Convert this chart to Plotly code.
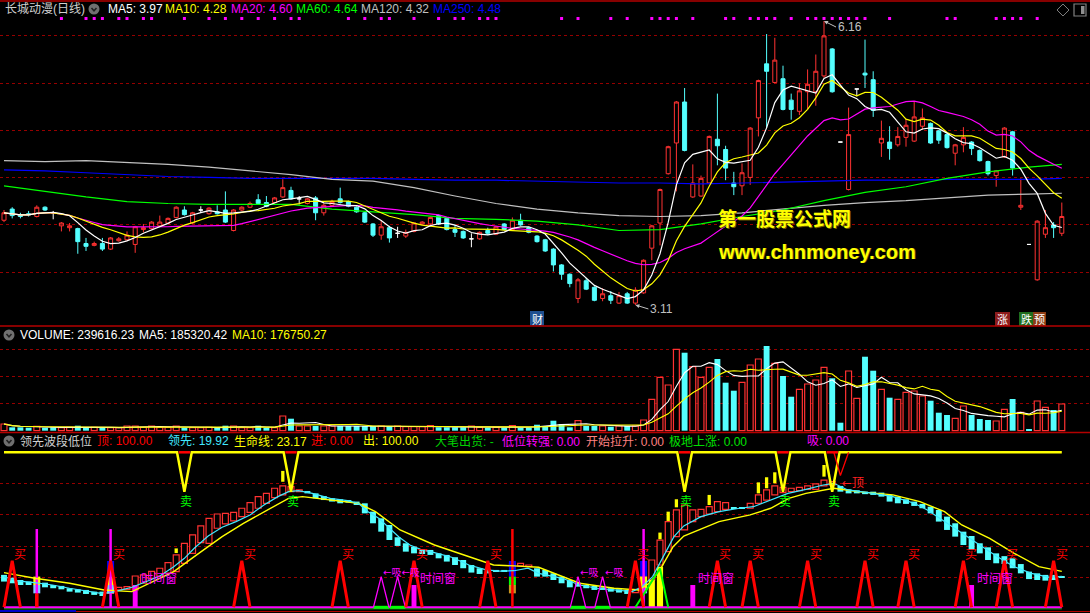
import numpy as np
import pandas as pd
import plotly.graph_objects as go

# ---------------- daily candles ----------------
opens = [4.02, 4.14, 4.08, 4.09, 4.06, 4.16, 4.10, 3.96, 3.94, 3.93,
         3.77, 3.75, 3.77, 3.71, 3.80, 3.81, 3.76, 3.92, 3.93, 3.96,
         3.99, 4.05, 4.13, 3.99, 4.13, 4.09, 4.11, 4.13, 3.91, 4.13,
         4.16, 4.24, 4.21, 4.21, 4.27, 4.34, 4.25, 4.20, 4.26, 4.10,
         4.18, 4.25, 4.22, 4.16, 4.10, 3.98, 3.86, 3.94, 3.88, 3.85,
         3.90, 3.98, 3.98, 4.07, 4.04, 3.92, 3.90, 3.82, 3.82, 3.91,
         3.87, 3.98, 3.92, 4.02, 3.94, 3.85, 3.81, 3.71, 3.54, 3.44,
         3.18, 3.37, 3.30, 3.18, 3.21, 3.13, 3.23, 3.13, 3.24, 3.72,
         3.99, 4.52, 4.85, 5.29, 4.27, 4.28, 4.42, 4.89, 4.78, 4.42,
         4.39, 4.48, 5.12, 5.70, 5.50, 5.54, 5.31, 5.19, 5.40, 5.40,
         5.57, 5.86, 4.86, 4.35, 5.43, 5.60, 5.53, 4.85, 4.86, 4.83,
         4.91, 4.87, 5.03, 5.06, 4.98, 4.94, 4.74, 4.83, 4.86, 4.77,
         4.65, 4.50, 4.70, 4.97, 4.16, 3.76, 3.38, 3.87, 3.97, 3.88]
highs = [4.13, 4.16, 4.10, 4.12, 4.18, 4.17, 4.12, 4.00, 3.99, 3.94,
         3.83, 3.79, 3.83, 3.84, 3.84, 3.90, 3.96, 3.98, 4.01, 4.07,
         4.05, 4.17, 4.17, 4.11, 4.17, 4.16, 4.18, 4.33, 4.14, 4.17,
         4.22, 4.30, 4.28, 4.27, 4.46, 4.38, 4.28, 4.26, 4.28, 4.20,
         4.24, 4.37, 4.23, 4.17, 4.11, 3.99, 4.02, 3.96, 3.95, 3.92,
         4.00, 4.01, 4.06, 4.08, 4.05, 3.97, 3.91, 3.88, 3.90, 3.94,
         3.96, 3.99, 4.05, 4.09, 3.95, 3.86, 3.82, 3.72, 3.55, 3.45,
         3.40, 3.40, 3.31, 3.29, 3.26, 3.25, 3.25, 3.30, 3.60, 3.97,
         4.36, 4.82, 5.30, 5.44, 4.62, 4.50, 4.93, 5.38, 4.82, 4.54,
         4.63, 5.02, 5.53, 6.02, 5.98, 5.68, 5.38, 5.49, 5.64, 5.80,
         6.16, 5.87, 4.86, 5.23, 5.43, 5.96, 5.62, 5.09, 5.03, 5.02,
         5.11, 5.30, 5.22, 5.07, 4.99, 4.95, 4.84, 5.02, 4.87, 4.78,
         4.66, 4.56, 5.02, 4.98, 4.47, 3.76, 4.02, 4.13, 4.00, 4.21]
lows = [4.00, 4.04, 4.04, 4.06, 4.05, 4.12, 4.03, 3.90, 3.90, 3.66,
        3.69, 3.74, 3.69, 3.70, 3.79, 3.80, 3.67, 3.89, 3.92, 3.95,
        3.98, 4.04, 4.07, 3.98, 4.10, 4.08, 4.08, 3.99, 3.90, 4.12,
        4.15, 4.19, 4.16, 4.20, 4.26, 4.24, 4.19, 4.19, 4.02, 4.07,
        4.17, 4.20, 4.16, 4.10, 3.99, 3.84, 3.81, 3.78, 3.83, 3.83,
        3.89, 3.97, 3.97, 3.97, 3.91, 3.84, 3.82, 3.73, 3.81, 3.86,
        3.86, 3.91, 3.91, 3.96, 3.88, 3.78, 3.68, 3.47, 3.38, 3.30,
        3.13, 3.27, 3.15, 3.15, 3.12, 3.12, 3.12, 3.11, 3.23, 3.59,
        3.75, 4.51, 4.33, 4.76, 4.26, 4.27, 4.41, 4.61, 4.45, 4.29,
        4.29, 4.40, 4.92, 5.01, 5.49, 5.20, 5.10, 5.15, 5.21, 5.25,
        5.55, 5.39, 4.86, 4.34, 5.35, 5.44, 5.13, 4.70, 4.67, 4.81,
        4.81, 4.86, 4.99, 4.84, 4.84, 4.79, 4.61, 4.75, 4.72, 4.65,
        4.50, 4.38, 4.69, 4.50, 4.13, 3.76, 3.37, 3.83, 3.83, 3.85]
closes = [4.10, 4.07, 4.06, 4.08, 4.16, 4.13, 4.10, 3.99, 3.96, 3.79,
          3.74, 3.77, 3.71, 3.83, 3.82, 3.86, 3.95, 3.94, 4.00, 4.00,
          4.04, 4.16, 4.08, 4.10, 4.13, 4.15, 4.09, 4.00, 4.13, 4.16,
          4.20, 4.20, 4.17, 4.26, 4.37, 4.25, 4.25, 4.25, 4.10, 4.18,
          4.22, 4.21, 4.17, 4.11, 4.00, 3.86, 3.95, 3.83, 3.88, 3.89,
          3.99, 4.00, 4.05, 3.98, 3.92, 3.89, 3.83, 3.82, 3.89, 3.88,
          3.95, 3.92, 4.02, 3.97, 3.89, 3.79, 3.69, 3.54, 3.44, 3.34,
          3.38, 3.28, 3.16, 3.23, 3.16, 3.21, 3.13, 3.27, 3.59, 3.96,
          4.35, 4.81, 5.29, 4.77, 4.42, 4.47, 4.92, 4.82, 4.58, 4.38,
          4.53, 5.01, 5.52, 5.62, 5.74, 5.21, 5.21, 5.41, 5.48, 5.62,
          6.00, 5.40, 4.86, 4.94, 5.43, 5.58, 5.20, 4.90, 4.79, 4.92,
          5.04, 5.13, 5.12, 4.85, 4.88, 4.80, 4.83, 4.91, 4.79, 4.66,
          4.52, 4.55, 5.01, 4.58, 4.18, 3.76, 4.01, 3.94, 3.94, 4.06]
volumes = [60100, 30500, 30500, 26900, 39500, 26900, 30500, 26900, 30500, 44900,
           26900, 30500, 26900, 26900, 26900, 42200, 42200, 30500, 42200, 30500,
           30500, 42200, 26900, 26900, 26900, 30500, 26900, 44900, 42200, 26900,
           26900, 44900, 26900, 26900, 131900, 107700, 42200, 42200, 42200, 42200,
           42200, 42200, 42200, 42200, 42200, 42200, 42200, 42200, 42200, 35900,
           35900, 35900, 44900, 30500, 30500, 30500, 30500, 42200, 30500, 26900,
           30500, 26900, 44900, 26900, 26900, 53800, 42200, 89700, 60100, 30500,
           89700, 42200, 42200, 42200, 35900, 42200, 42200, 42200, 96000, 281800,
           479200, 410100, 730500, 700000, 574400, 479200, 569000, 643500, 430800, 359000,
           434400, 589600, 643500, 760200, 604900, 490900, 305100, 371600, 419100, 455000,
           569000, 470300, 71800, 535800, 290800, 664100, 538500, 371600, 296200, 281800,
           344600, 356300, 311400, 269200, 161500, 140900, 111300, 221700, 140900, 105000,
           96000, 87100, 192100, 284500, 165100, 15300, 266500, 210000, 185800, 239616]
vol_dir = ("rcccrccrrc" "crcrrrrrrr" "rrcrrrccrr" "rccrrcrrcr" "rcccccrcrr"
           "rrrccccrrc" "rcrccccccc" "rccrcrcrrr" "rrrcrrrccc" "rrrcrccrrr"
           "rccrrccrcr" "rrrcccrrcc" "crrcrcrrcr")

# long moving averages at every 5th day
ma_long_idx = [0, 5, 10, 15, 20, 25, 30, 35, 40, 45, 50, 55, 60, 65, 70, 75, 80,
               85, 90, 95, 100, 105, 110, 115, 120, 125, 129]
ma60_val = [4.39, 4.33, 4.27, 4.22, 4.20, 4.19, 4.19, 4.19, 4.14, 4.11, 4.08, 4.04,
            4.03, 4.01, 3.97, 3.91, 3.92, 3.98, 4.06, 4.13, 4.23, 4.32, 4.38, 4.47,
            4.54, 4.59, 4.62]
ma120_val = [4.66, 4.65, 4.66, 4.64, 4.62, 4.59, 4.55, 4.51, 4.46, 4.44, 4.37, 4.28,
             4.20, 4.14, 4.10, 4.07, 4.06, 4.07, 4.10, 4.14, 4.18, 4.21, 4.23, 4.26,
             4.29, 4.30, 4.31]
ma250_val = [4.56, 4.55, 4.53, 4.51, 4.49, 4.48, 4.47, 4.47, 4.47, 4.47, 4.46, 4.45,
             4.45, 4.44, 4.43, 4.42, 4.42, 4.41, 4.42, 4.43, 4.44, 4.45, 4.45, 4.46,
             4.46, 4.46, 4.47]
marker_dot_idx = [7, 10, 11, 12, 14, 15, 17, 18, 22, 25, 27, 29, 31, 33, 35, 36, 42, 44,
                  46, 47, 50, 53, 55, 56, 58, 59, 60, 68, 70, 74, 76, 79, 80, 81, 82, 84,
                  88, 89, 91, 92, 93, 94, 96, 98, 99, 100, 101, 102, 103, 104, 105, 108,
                  115, 116, 121, 122, 123, 124, 126]
marker_dot_level = 6.187

# ---------------- indicator panel (领先波段低位) ----------------
lead_lo = [16.6, 15.5, 14.4, 14.4, 13.3, 12.9, 12.3, 11.6, 10.1, 9.5,
           8.6, 8.0, 7.3, 9.0, 11.2, 11.6, 11.2, 15.5, 18.7, 20.2,
           22.0, 23.0, 28.4, 34.8, 41.7, 41.3, 51.0, 53.8, 55.7, 58.5,
           61.3, 63.9, 67.1, 70.7, 72.5, 74.6, 74.6, 73.5, 70.3, 69.2,
           68.2, 67.1, 67.5, 66.0, 60.6, 54.2, 48.8, 43.4, 39.6, 35.9,
           34.8, 34.4, 33.8, 31.6, 29.5, 27.3, 25.2, 22.4, 21.5, 21.9,
           23.0, 23.2, 26.2, 26.7, 26.2, 19.8, 19.8, 17.6, 15.5, 12.9,
           13.3, 12.3, 11.2, 11.2, 10.1, 9.5, 8.6, 9.5, 11.2, 17.6,
           27.3, 35.9, 45.6, 49.9, 55.3, 58.5, 60.2, 61.7, 63.2, 63.5,
           63.5, 63.9, 67.1, 69.2, 72.5, 74.0, 74.6, 75.3, 76.1, 76.1,
           78.3, 78.9, 74.6, 73.5, 73.5, 73.0, 72.5, 71.4, 68.2, 67.1,
           66.7, 65.4, 63.9, 60.6, 55.3, 49.9, 45.6, 40.2, 37.0, 34.8,
           30.5, 28.4, 27.9, 25.2, 21.9, 18.2, 17.6, 17.2, 17.6, 19.1]
lead_hi = [20.9, 19.1, 17.6, 16.6, 16.6, 15.9, 14.4, 13.8, 12.3, 11.6,
           11.2, 10.1, 10.1, 11.2, 12.9, 13.3, 20.2, 20.9, 23.2, 25.2,
           28.8, 33.8, 41.3, 46.7, 52.5, 57.4, 60.2, 60.6, 61.3, 63.9,
           67.5, 71.4, 73.5, 76.8, 78.3, 77.8, 75.7, 75.0, 73.5, 71.8,
           70.3, 69.7, 69.2, 68.2, 67.1, 61.7, 57.4, 53.1, 45.2, 41.3,
           39.1, 37.4, 37.0, 34.8, 33.8, 32.3, 30.5, 27.3, 25.2, 24.5,
           24.1, 24.1, 28.4, 28.4, 27.3, 25.2, 24.1, 21.9, 19.8, 17.6,
           15.9, 14.4, 13.8, 12.9, 12.3, 11.6, 11.2, 11.6, 19.8, 30.5,
           43.4, 55.3, 62.8, 66.0, 62.8, 63.2, 64.9, 68.2, 67.5, 64.3,
           64.5, 67.1, 72.5, 75.7, 78.3, 77.4, 76.8, 77.4, 78.3, 79.6,
           82.1, 81.1, 78.3, 76.1, 75.5, 74.6, 74.6, 74.0, 72.5, 71.4,
           69.7, 68.2, 66.7, 64.9, 62.8, 58.5, 54.2, 48.8, 46.0, 41.3,
           38.7, 34.8, 33.0, 31.6, 27.9, 23.0, 21.9, 20.9, 20.9, 20.2]
lead_dir = "c" * 13 + "r" * 24 + "c" * 25 + "r" * 3 + "c" * 12 + "r" * 12 + "c" * 2 + "r" * 11 + "c" * 28

lead_line_x = [0, 1.6, 3.7, 5.9, 8, 10.1, 11.8, 13, 14.3, 15.6, 17.3, 19, 20.7, 22, 23.2,
               24.9, 26.6, 28.3, 30, 31.7, 33.4, 34.7, 35.9, 37.6, 39.8, 41.9, 43.2, 44.4,
               45.7, 47, 48.2, 49.5, 50.8, 52.5, 54.6, 56.7, 58.8, 60.5, 62.2, 63.9, 65.2,
               68.1, 70.2, 72.3, 74.5, 76.6, 77.8, 79.1, 80.4, 81.7, 82.9, 85, 87.2, 89.7,
               91.4, 93.5, 95.6, 97.8, 99.9, 101.2, 102.9, 105.4, 108.4, 111, 112.6, 114.7,
               116.9, 119, 121.1, 123.2, 125.3, 127.5, 129]
lead_line_y = [19.8, 17, 15.9, 14.4, 12.3, 10.7, 9, 9.5, 11.2, 12.9, 16.5, 20.2, 26.2, 31.6,
               38.1, 46, 51.6, 55.3, 59.6, 66, 71.4, 74.6, 75.3, 73.5, 70.3, 68.8, 67.1, 61.7,
               57.4, 51, 45.2, 40.2, 37.4, 35.3, 32.3, 27.3, 24.1, 23.4, 23.6, 25.2, 21.9,
               18.7, 14.4, 12.3, 11.2, 10.1, 13.3, 19.8, 32.7, 45.6, 52.5, 58.5, 61.7, 63.9,
               64.9, 69.2, 73.5, 76.1, 78.9, 80, 75.7, 74, 71.4, 67.1, 62.8, 55.3, 47.7,
               40.2, 32.7, 26.2, 21.9, 19.3, 19.92]
life_line_x = [0, 3.75, 8.0, 12.2, 15.6, 17.3, 20.7, 23.2, 26.6, 29.2, 31.7, 34.7, 36.4,
               39.8, 43.2, 45.3, 48.3, 52.5, 56.7, 59.7, 62.2, 65.2, 70.2, 74.4, 77.4,
               78.7, 80.0, 81.6, 82.9, 87.2, 91.0, 93.5, 95.7, 97.8, 101.2, 104.1, 108.4,
               111.7, 114.7, 116.8, 120.2, 123.2, 126.2, 129]
life_line_y = [22.4, 18.7, 15.5, 11.2, 10.1, 14.4, 23, 32.7, 45.6, 54.2, 61.7, 70.3, 71.4,
               69.2, 67.1, 61.7, 49.9, 40.2, 32.7, 27.3, 26.7, 25.8, 15.5, 12.3, 11.2,
               15.5, 24.1, 39.1, 46, 55.3, 59.6, 63.9, 70.3, 73.5, 76.8, 74.6, 72.5,
               68.2, 61.7, 53.1, 44.5, 34.8, 26.2, 23.17]

top_level = 100.0
sell_idx = [22, 35, 83, 95, 101]
sell_depth = 74.6
warn_top_idx = 102
warn_top_depth = 85.0
buy_idx = [1, 13, 29, 41, 50, 59, 77, 87, 91, 98, 105, 110, 117, 122, 128]
buy_height = 30.0
window_idx = [16, 50, 84, 118]
window_height = 14.4
absorb_idx = [46, 48, 70, 73]
absorb_height = 19.8
spike_idx = [4, 13, 78, 62]
spike_color = ["m", "m", "m", "r"]
spike_height = 50.5
stack_idx = [4, 13, 62, 78]
stack_top = [19.8, 29.9, 29.9, 29.9]
stack_blue_lo = [None, 19.8, 19.8, 19.8]
stack_mid_lo = [14.4, 14.4, 14.4, 12.3]
stack_mid_color = ["y", "y", "g", "y"]
stack_low_lo = [9.0, 9.0, 9.0, 9.0]
stack_low_color = ["b", "b", "o", "b"]
rise_idx = [79, 80]
rise_val = [17.6, 26.2]
surge_x = [77, 80, 81]
surge_y = [0, 25, 0]
ytick_idx = [21, 34, 80, 81, 82, 86, 92, 93, 94, 100]
ytick_lo = [35.0, 81.0, 43.9, 55.7, 64.5, 66.0, 73.5, 76.8, 80.0, 84.3]
ytick_hi = [38.0, 88.0, 48.2, 61.7, 69.7, 72.5, 80.6, 83.9, 87.1, 91.8]

# ---------------- styling ----------------
W, H = 1090, 613
RED = "#ff3232"
CYAN = "#54ffff"
GRID = "#960000"
BORDER = "#b40000"
MAG = "#ff00ff"
FONT = "Liberation Sans, Noto Sans CJK SC, sans-serif"
CJK = "Noto Sans CJK SC, sans-serif"
ARROWFONT = "DejaVu Sans, Noto Sans CJK SC, sans-serif"

n = len(closes)
idx = list(range(n))
cs = pd.Series(closes)
ma5 = cs.rolling(5, min_periods=1).mean()
ma10 = cs.rolling(10, min_periods=1).mean()
ma20 = cs.rolling(20, min_periods=1).mean()
vs = pd.Series(volumes, dtype=float)
vma5 = vs.rolling(5, min_periods=1).mean()
vma10 = vs.rolling(10, min_periods=1).mean()


def pick(a, ii):
    return [a[i] for i in ii]


def px(x):
    return x / W


def py(y):
    return 1 - y / H


fig = go.Figure()

# ---- price panel ----
reg = [i for i in idx if opens[i] != closes[i]]
flat = [i for i in idx if opens[i] == closes[i]]
fig.add_trace(go.Candlestick(
    x=reg, open=pick(opens, reg), high=pick(highs, reg), low=pick(lows, reg), close=pick(closes, reg),
    increasing=dict(line=dict(color=RED, width=1), fillcolor="#000000"),
    decreasing=dict(line=dict(color=CYAN, width=1), fillcolor=CYAN),
    whiskerwidth=0, hoverinfo="skip", yaxis="y"))
fig.add_trace(go.Candlestick(
    x=flat, open=pick(opens, flat), high=pick(highs, flat), low=pick(lows, flat), close=pick(closes, flat),
    increasing=dict(line=dict(color="#ffffff", width=1), fillcolor="#ffffff"),
    decreasing=dict(line=dict(color="#ffffff", width=1), fillcolor="#ffffff"),
    whiskerwidth=0, hoverinfo="skip", yaxis="y"))

for vals, xs, col in [(ma250_val, ma_long_idx, "#0000ff"), (ma120_val, ma_long_idx, "#c0c0c0"),
                      (ma60_val, ma_long_idx, "#00ff00"), (list(ma20), idx, MAG),
                      (list(ma10), idx, "#ffff00"), (list(ma5), idx, "#ffffff")]:
    fig.add_trace(go.Scatter(x=xs, y=vals, mode="lines", line=dict(color=col, width=1.2),
                             hoverinfo="skip", yaxis="y"))

fig.add_trace(go.Scatter(x=marker_dot_idx, y=[marker_dot_level] * len(marker_dot_idx), mode="markers",
                         marker=dict(symbol="square", size=3, color=MAG), hoverinfo="skip", yaxis="y"))

# ---- volume panel ----
up = [i for i in idx if vol_dir[i] == "r"]
dn = [i for i in idx if vol_dir[i] == "c"]
fig.add_trace(go.Bar(x=up, y=pick(volumes, up), width=0.72, yaxis="y2", hoverinfo="skip",
                     marker=dict(color="#000000", line=dict(color=RED, width=1.2))))
fig.add_trace(go.Bar(x=dn, y=pick(volumes, dn), width=0.72, yaxis="y2", hoverinfo="skip",
                     marker=dict(color=CYAN, line=dict(width=0))))
fig.add_trace(go.Scatter(x=idx, y=list(vma5), mode="lines", line=dict(color="#ffffff", width=1.1),
                         yaxis="y2", hoverinfo="skip"))
fig.add_trace(go.Scatter(x=idx, y=list(vma10), mode="lines", line=dict(color="#ffff00", width=1.1),
                         yaxis="y2", hoverinfo="skip"))

# ---- indicator panel ----
fig.add_trace(go.Scatter(x=[0, n - 1], y=[-1.0, -1.0], mode="lines", line=dict(color="#00c000", width=1),
                         yaxis="y3", hoverinfo="skip"))
fig.add_trace(go.Scatter(x=[0, n - 1], y=[0, 0], mode="lines", line=dict(color=MAG, width=2),
                         yaxis="y3", hoverinfo="skip"))

for i, c in zip(spike_idx, spike_color):
    fig.add_trace(go.Scatter(x=[i, i], y=[0, spike_height], mode="lines",
                             line=dict(color=MAG if c == "m" else "#ff0000", width=2.5),
                             yaxis="y3", hoverinfo="skip"))
fig.add_trace(go.Scatter(x=[spike_idx[0], spike_idx[0]], y=[0, 9.0], mode="lines",
                         line=dict(color="#ff0000", width=3.5), yaxis="y3", hoverinfo="skip"))

r_i = [i for i in idx if lead_dir[i] == "r"]
c_i = [i for i in idx if lead_dir[i] == "c"]
fig.add_trace(go.Bar(x=r_i, y=[lead_hi[i] - lead_lo[i] for i in r_i], base=pick(lead_lo, r_i), width=0.72,
                     marker=dict(color="#000000", line=dict(color=RED, width=1.2)), yaxis="y3", hoverinfo="skip"))
fig.add_trace(go.Bar(x=c_i, y=[lead_hi[i] - lead_lo[i] for i in c_i], base=pick(lead_lo, c_i), width=0.72,
                     marker=dict(color=CYAN, line=dict(width=0)), yaxis="y3", hoverinfo="skip"))

fig.add_trace(go.Bar(x=ytick_idx, y=[h - l for h, l in zip(ytick_hi, ytick_lo)], base=ytick_lo, width=0.4,
                     marker=dict(color="#ffff00", line=dict(width=0)), yaxis="y3", hoverinfo="skip"))

fig.add_trace(go.Scatter(x=life_line_x, y=life_line_y, mode="lines", line=dict(color="#ffff00", width=1.4),
                         yaxis="y3", hoverinfo="skip"))
fig.add_trace(go.Scatter(x=lead_line_x, y=lead_line_y, mode="lines", line=dict(color="#40e8ff", width=1.2),
                         yaxis="y3", hoverinfo="skip"))

colmap = {"y": "#ffff00", "g": "#00ff00", "b": "#80c8ff", "o": "#c8961e"}
for k, i in enumerate(stack_idx):
    segs = []
    if stack_blue_lo[k] is not None:
        segs.append((stack_blue_lo[k], stack_top[k], "#0000ff"))
        segs.append((stack_mid_lo[k], stack_blue_lo[k], colmap[stack_mid_color[k]]))
    else:
        segs.append((stack_mid_lo[k], stack_top[k], colmap[stack_mid_color[k]]))
    segs.append((stack_low_lo[k], stack_mid_lo[k], colmap[stack_low_color[k]]))
    for lo, hi, col in segs:
        fig.add_trace(go.Bar(x=[i], y=[hi - lo], base=[lo], width=0.85, marker=dict(color=col, line=dict(width=0)),
                             yaxis="y3", hoverinfo="skip"))

fig.add_trace(go.Bar(x=rise_idx, y=rise_val, base=[0, 0], width=0.75, marker=dict(color="#ffff00", line=dict(width=0)),
                     yaxis="y3", hoverinfo="skip"))
fig.add_trace(go.Scatter(x=surge_x, y=surge_y, mode="lines", line=dict(color="#00ff00", width=2),
                         yaxis="y3", hoverinfo="skip"))

fig.add_trace(go.Bar(x=window_idx, y=[window_height] * len(window_idx), base=[0] * len(window_idx), width=0.6,
                     marker=dict(color=MAG, line=dict(width=0)), yaxis="y3", hoverinfo="skip"))

ax_, ay_ = [], []
gx, gy = [], []
for i in absorb_idx:
    ax_ += [i - 0.95, i, i + 0.95, None]
    ay_ += [0, absorb_height, 0, None]
    gx += [i - 0.95, i + 0.95, None]
    gy += [0, 0, None]
fig.add_trace(go.Scatter(x=gx, y=gy, mode="lines", line=dict(color="#00ff00", width=3), yaxis="y3", hoverinfo="skip"))
fig.add_trace(go.Scatter(x=ax_, y=ay_, mode="lines", line=dict(color=MAG, width=1.3), yaxis="y3", hoverinfo="skip"))

bx, by = [], []
for i in buy_idx:
    bx += [i - 1, i, i + 1, None]
    by += [0, buy_height, 0, None]
fig.add_trace(go.Scatter(x=bx, y=by, mode="lines", line=dict(color="#ff0000", width=3), yaxis="y3", hoverinfo="skip"))

tx, ty = [0], [top_level]
for s in sell_idx:
    tx += [s - 0.9, s, s + 0.9]
    ty += [top_level, sell_depth, top_level]
tx += [n - 1]
ty += [top_level]
fig.add_trace(go.Scatter(x=tx, y=ty, mode="lines", line=dict(color="#ffff00", width=2.5), yaxis="y3", hoverinfo="skip"))
rx, ry = [], []
for s in sell_idx:
    rx += [s - 0.7, s + 0.7, None]
    ry += [top_level, top_level, None]
fig.add_trace(go.Scatter(x=rx, y=ry, mode="lines", line=dict(color="#ff0000", width=2.5), yaxis="y3", hoverinfo="skip"))
fig.add_trace(go.Scatter(x=[warn_top_idx - 0.8, warn_top_idx, warn_top_idx + 1.0],
                         y=[top_level, warn_top_depth, top_level], mode="lines",
                         line=dict(color="#ff0000", width=1.3), yaxis="y3", hoverinfo="skip"))

# ---------------- annotations ----------------
ann = []


def txt(x, y, s, color, size=12, family=FONT, anchor="left", bold=False):
    ann.append(dict(x=px(x), y=py(y), xref="paper", yref="paper", text=("<b>%s</b>" % s) if bold else s,
                    showarrow=False, xanchor=anchor, yanchor="middle",
                    font=dict(color=color, size=size, family=family)))


def dtxt(x, y, s, color, size=12, anchor="left", family=CJK):
    ann.append(dict(x=x, y=y, xref="x", yref="y3", text=s, showarrow=False, xanchor=anchor, yanchor="middle",
                    font=dict(color=color, size=size, family=family)))


txt(3, 9, "长城动漫(日线)", "#d0d0d0", 12)
txt(106, 9, "MA5: 3.97", "#ffffff")
txt(163, 9, "MA10: 4.28", "#ffff00")
txt(229, 9, "MA20: 4.60", MAG)
txt(294, 9, "MA60: 4.64", "#00ff00")
txt(359, 9, "MA120: 4.32", "#c0c0c0")
txt(431, 9, "MA250: 4.48", "#0000ff")
txt(18, 335, "VOLUME: 239616.23", "#ffffff")
txt(137, 335, "MA5: 185320.42", "#ffffff")
txt(230, 335, "MA10: 176750.27", "#ffff00")
txt(18, 441, "领先波段低位", "#d0d0d0")
txt(95, 441, "顶: 100.00", "#ff0000")
txt(166, 441, "领先: 19.92", "#40e8ff")
txt(232, 441, "生命线: 23.17", "#ffff00")
txt(309, 441, "进: 0.00", "#ff0000")
txt(361, 441, "出: 100.00", "#ffff00")
txt(433, 441, "大笔出货: -", "#00d000")
txt(500, 441, "低位转强: 0.00", MAG)
txt(584, 441, "开始拉升: 0.00", "#ff8080")
txt(667, 441, "极地上涨: 0.00", "#00e000")
txt(805, 441, "吸: 0.00", MAG)

txt(717, 218.5, "第一股票公式网", "#6a5a00", 19, CJK, bold=True)
txt(716, 217.5, "第一股票公式网", "#ffff00", 19, CJK, bold=True)
txt(717, 252.5, "www.chnmoney.com", "#6a5a00", 20, "Liberation Sans, Arial, sans-serif", bold=True)
txt(716, 251.5, "www.chnmoney.com", "#ffff00", 20, "Liberation Sans, Arial, sans-serif", bold=True)

ann.append(dict(x=100, y=6.16, xref="x", yref="y", text="6.16", showarrow=True, arrowhead=2, arrowsize=0.8,
                arrowwidth=1, arrowcolor="#c0c0c0", ax=12, ay=6, xanchor="left", yanchor="middle",
                font=dict(color="#c0c0c0", size=12, family=FONT)))
ann.append(dict(x=77, y=3.11, xref="x", yref="y", text="3.11", showarrow=True, arrowhead=2, arrowsize=0.8,
                arrowwidth=1, arrowcolor="#c0c0c0", ax=13, ay=4, xanchor="left", yanchor="middle",
                font=dict(color="#c0c0c0", size=12, family=FONT)))

txt(537, 318.5, "财", "#ffffff", 11, CJK, anchor="center")
txt(1002.5, 319, "涨", "#ffffff", 11, CJK, anchor="center")
txt(1026, 319, "跌", "#ffffff", 11, CJK, anchor="center")
txt(1039, 319, "预", "#ffffff", 11, CJK, anchor="center")

for s in sell_idx:
    dtxt(s + 0.2, 69.2, "卖", "#00ff00", anchor="center")
dtxt(101.95, 80.2, "←顶", "#ff2020", family=ARROWFONT)
for i in buy_idx:
    dtxt(i, 35.0, "买", "#ff0000")
for i in window_idx:
    dtxt(i + 0.45, 19.5, "时间窗", MAG, 12)
# absorb labels: signals closer than 2.5 days share one label string
groups = []
for i in absorb_idx:
    if groups and i - groups[-1][-1] < 2.5:
        groups[-1].append(i)
    else:
        groups.append([i])
for g in groups:
    dtxt(g[0], 22.3, "←吸" * len(g), MAG, 10, family=ARROWFONT)

# ---------------- shapes ----------------
shapes = []


def hline(y, x0, x1, color, width=1.0):
    shapes.append(dict(type="line", xref="paper", yref="paper", x0=px(x0), x1=px(x1), y0=py(y), y1=py(y),
                       line=dict(color=color, width=width)))


def rect(x0, y0, x1, y1, fill):
    shapes.append(dict(type="rect", xref="paper", yref="paper", x0=px(x0), x1=px(x1), y0=py(y1), y1=py(y0),
                       fillcolor=fill, line=dict(width=0), layer="below"))


hline(1, 0, W, BORDER, 1.5)
hline(326, 0, W, BORDER, 1.5)
hline(432.5, 0, W, BORDER, 1.5)
hline(611.5, 0, W, BORDER, 1.2)
hline(611, 0, 76, "#0000c8", 2)

rect(530, 311, 544, 325.5, "#1f4f8f")
rect(995, 312, 1010, 326, "#8c1c1c")
rect(1019, 312, 1033, 326, "#1e6e1e")
rect(1033, 312, 1046, 326, "#8c3c14")

for cx, cy in [(94, 9), (9, 335), (9, 441)]:
    shapes.append(dict(type="circle", xref="paper", yref="paper", x0=px(cx - 5.5), x1=px(cx + 5.5),
                       y0=py(cy + 5.5), y1=py(cy - 5.5), fillcolor="#707070", line=dict(width=0)))
    shapes.append(dict(type="path", xref="paper", yref="paper",
                       path="M %f %f L %f %f L %f %f" % (px(cx - 2.5), py(cy - 1), px(cx), py(cy + 1.8),
                                                         px(cx + 2.5), py(cy - 1)),
                       line=dict(color="#202020", width=1.5)))

shapes.append(dict(type="path", xref="paper", yref="paper",
                   path="M %f %f L %f %f L %f %f L %f %f Z" % (px(1063), py(4), px(1069), py(10), px(1063), py(16),
                                                              px(1057), py(10)),
                   line=dict(color="#808080", width=1)))
shapes.append(dict(type="rect", xref="paper", yref="paper", x0=px(1074), x1=px(1086), y0=py(16), y1=py(4),
                   line=dict(color="#808080", width=1.2)))
shapes.append(dict(type="rect", xref="paper", yref="paper", x0=px(1081), x1=px(1084.5), y0=py(14), y1=py(6),
                   fillcolor="#909090", line=dict(width=0)))

# ---------------- axes ----------------
x_lo, x_hi = -4 / 8.2, (W - 4) / 8.2
p_top, p_bot = 6.3856 - 0.010741 * 14, 6.3856 - 0.010741 * 325
price_grid = [5.999, 5.491, 4.982, 4.477, 3.972, 3.461]
vol_grid = [245900, 488200, 730500]
ind_grid = [19.1, 39.5, 60.0, 80.0]

axcommon = dict(showticklabels=False, ticks="", zeroline=False, showline=False, fixedrange=True,
                gridcolor=GRID, griddash="dot", gridwidth=1, anchor="x")
fig.update_layout(
    width=W, height=H, margin=dict(l=0, r=0, t=0, b=0),
    paper_bgcolor="#000000", plot_bgcolor="#000000",
    showlegend=False, barmode="overlay", hovermode=False,
    xaxis=dict(range=[x_lo, x_hi], showgrid=False, zeroline=False, showticklabels=False, ticks="",
               showline=False, rangeslider=dict(visible=False), fixedrange=True),
    yaxis=dict(domain=[1 - 325 / H, 1 - 14 / H], range=[p_bot, p_top], tickvals=price_grid, **axcommon),
    yaxis2=dict(domain=[1 - 432 / H, 1 - 328 / H], range=[(430.7 - 432) * 8975, (430.7 - 328) * 8975],
                tickvals=vol_grid, **axcommon),
    yaxis3=dict(domain=[1 - 612 / H, 1 - 446 / H], range=[(607.3 - 612) / 1.55, (607.3 - 446) / 1.55],
                tickvals=ind_grid, **axcommon),
    annotations=ann, shapes=shapes,
)

fig.write_html("out.html", config={"displayModeBar": False},
               post_script="document.body.style.margin='0px';document.body.style.background='#000';")
